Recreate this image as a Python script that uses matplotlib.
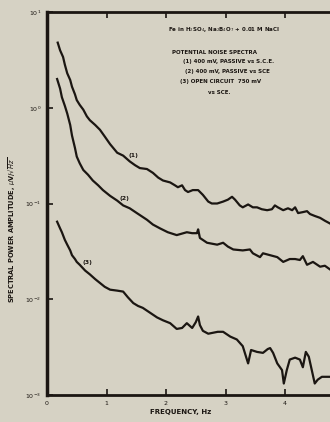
import numpy as np
import matplotlib
matplotlib.use("Agg")
import matplotlib.pyplot as plt

# frequency (Hz) and log10 of spectral amplitude
freq1 = [0.18, 0.22, 0.27, 0.30, 0.34, 0.39, 0.42, 0.47, 0.50, 0.55,
         0.61, 0.67, 0.72, 0.81, 0.89, 0.97, 1.06, 1.18, 1.28, 1.39,
         1.48, 1.56, 1.68, 1.78, 1.87, 1.95, 2.07, 2.15, 2.20, 2.27,
         2.32, 2.37, 2.45, 2.54, 2.62, 2.71, 2.77, 2.86, 2.96, 3.04,
         3.11, 3.16, 3.24, 3.29, 3.38, 3.46, 3.53, 3.61, 3.70, 3.78,
         3.83, 3.88, 3.97, 4.05, 4.12, 4.17, 4.22, 4.30, 4.37, 4.42,
         4.50, 4.59, 4.67, 4.76]
logamp1 = [0.68, 0.60, 0.53, 0.45, 0.36, 0.29, 0.22, 0.14, 0.08, 0.03,
           -0.02, -0.09, -0.13, -0.18, -0.23, -0.30, -0.38, -0.47, -0.50, -0.56,
           -0.60, -0.63, -0.64, -0.68, -0.73, -0.76, -0.78, -0.81, -0.83, -0.81,
           -0.86, -0.88, -0.86, -0.86, -0.91, -0.98, -1.00, -1.00, -0.98, -0.96,
           -0.93, -0.96, -1.02, -1.04, -1.01, -1.04, -1.04, -1.06, -1.07, -1.06,
           -1.02, -1.04, -1.07, -1.05, -1.07, -1.04, -1.10, -1.09, -1.08, -1.11,
           -1.13, -1.15, -1.18, -1.21]

freq2 = [0.17, 0.22, 0.25, 0.30, 0.34, 0.39, 0.42, 0.47, 0.50, 0.55,
         0.61, 0.69, 0.77, 0.86, 0.94, 1.06, 1.18, 1.28, 1.39, 1.51,
         1.68, 1.78, 1.90, 2.03, 2.18, 2.35, 2.44, 2.52, 2.54, 2.57,
         2.69, 2.86, 2.96, 3.04, 3.13, 3.29, 3.41, 3.46, 3.58, 3.63,
         3.75, 3.87, 3.97, 4.08, 4.17, 4.25, 4.30, 4.37, 4.47, 4.59,
         4.67, 4.76]
logamp2 = [0.30, 0.20, 0.11, 0.02, -0.06, -0.18, -0.29, -0.42, -0.51, -0.58,
           -0.65, -0.70, -0.76, -0.81, -0.86, -0.92, -0.97, -1.02, -1.05, -1.10,
           -1.17, -1.22, -1.26, -1.30, -1.33, -1.30, -1.31, -1.31, -1.27, -1.36,
           -1.41, -1.43, -1.41, -1.45, -1.48, -1.49, -1.48, -1.52, -1.56, -1.52,
           -1.54, -1.56, -1.61, -1.58, -1.58, -1.59, -1.55, -1.64, -1.61, -1.66,
           -1.65, -1.69]

freq3 = [0.17, 0.22, 0.25, 0.30, 0.34, 0.39, 0.42, 0.47, 0.50, 0.55,
         0.64, 0.72, 0.81, 0.89, 0.97, 1.06, 1.18, 1.28, 1.36, 1.45,
         1.53, 1.61, 1.73, 1.85, 1.95, 2.07, 2.18, 2.27, 2.35, 2.44,
         2.50, 2.54, 2.57, 2.62, 2.71, 2.79, 2.87, 2.96, 3.08, 3.19,
         3.29, 3.34, 3.38, 3.43, 3.53, 3.63, 3.71, 3.75, 3.80, 3.87,
         3.95, 3.98, 4.03, 4.08, 4.17, 4.25, 4.30, 4.35, 4.40, 4.45,
         4.50, 4.55, 4.62, 4.76]
logamp3 = [-1.19, -1.26, -1.30, -1.38, -1.43, -1.49, -1.54, -1.58, -1.61, -1.64,
           -1.70, -1.74, -1.79, -1.83, -1.87, -1.90, -1.91, -1.92, -1.98, -2.04,
           -2.07, -2.09, -2.14, -2.19, -2.22, -2.25, -2.31, -2.30, -2.25, -2.30,
           -2.24, -2.18, -2.27, -2.33, -2.36, -2.35, -2.34, -2.34, -2.39, -2.42,
           -2.49, -2.59, -2.67, -2.53, -2.55, -2.56, -2.52, -2.51, -2.56, -2.67,
           -2.74, -2.88, -2.74, -2.63, -2.61, -2.63, -2.71, -2.55, -2.60, -2.74,
           -2.88, -2.84, -2.81, -2.81]

curve_labels = ["(1)", "(2)", "(3)"]
label_pos = [(1.45, -0.50), (1.30, -0.95), (0.68, -1.62)]

xticks = [0, 1, 2, 3, 4]
ydecades = [-3, -2, -1, 0, 1]

notes = [
    "Fe in H$_2$SO$_4$, Na$_2$B$_4$O$_7$ + 0.01 M NaCl",
    "POTENTIAL NOISE SPECTRA",
    "(1) 400 mV, PASSIVE vs S.C.E.",
    "(2) 400 mV, PASSIVE vs SCE",
    "(3) OPEN CIRCUIT  750 mV",
    "vs SCE.",
]
note_xy = [(168, 29), (172, 53), (183, 62), (185, 72), (180, 82), (208, 93)]

bg = "#d6d2c4"
ink = "#1b1612"

W, H = 330, 422
fig = plt.figure(figsize=(W / 100, H / 100), dpi=100, facecolor=bg)
ax = fig.add_axes([47 / W, 1 - 395 / H, 297.5 / W, 383 / H], facecolor=bg)

for f, la in [(freq1, logamp1), (freq2, logamp2), (freq3, logamp3)]:
    ax.plot(f, 10 ** np.array(la), color=ink, lw=1.6, solid_joinstyle="round")

for txt, (fx, ly) in zip(curve_labels, label_pos):
    ax.text(fx, 10 ** ly, txt, fontsize=4.5, fontweight="bold", color=ink,
            ha="center", va="center")

ax.set_yscale("log")
ax.set_xlim(0, 5)
ax.set_ylim(1e-3, 1e1)
ax.minorticks_off()
ax.set_xticks(xticks)
ax.set_xticklabels([str(t) for t in xticks])
ax.set_yticks([10.0 ** d for d in ydecades])
ax.set_yticklabels(["10$^{%d}$" % d for d in ydecades])
ax.tick_params(direction="in", length=4, width=1.2, colors=ink, labelsize=4.5,
               top=True, pad=4)
for s in ax.spines.values():
    s.set_color(ink)
    s.set_linewidth(2)
ax.spines["left"].set_linewidth(2.5)

fig.text(12 / W, 1 - 230 / H, "SPECTRAL POWER AMPLITUDE, $\\mu$V/$\\sqrt{Hz}$",
         rotation=90, ha="center", va="center", fontsize=4.8, fontweight="bold",
         color=ink)
fig.text(181 / W, 1 - 412 / H, "FREQUENCY, Hz", ha="center", va="center",
         fontsize=5, fontweight="bold", color=ink)

for txt, (px, py) in zip(notes, note_xy):
    fig.text(px / W, 1 - py / H, txt, ha="left", va="center", fontsize=4,
             fontweight="bold", color=ink)

fig.savefig("out.png", dpi=100, facecolor=bg)
